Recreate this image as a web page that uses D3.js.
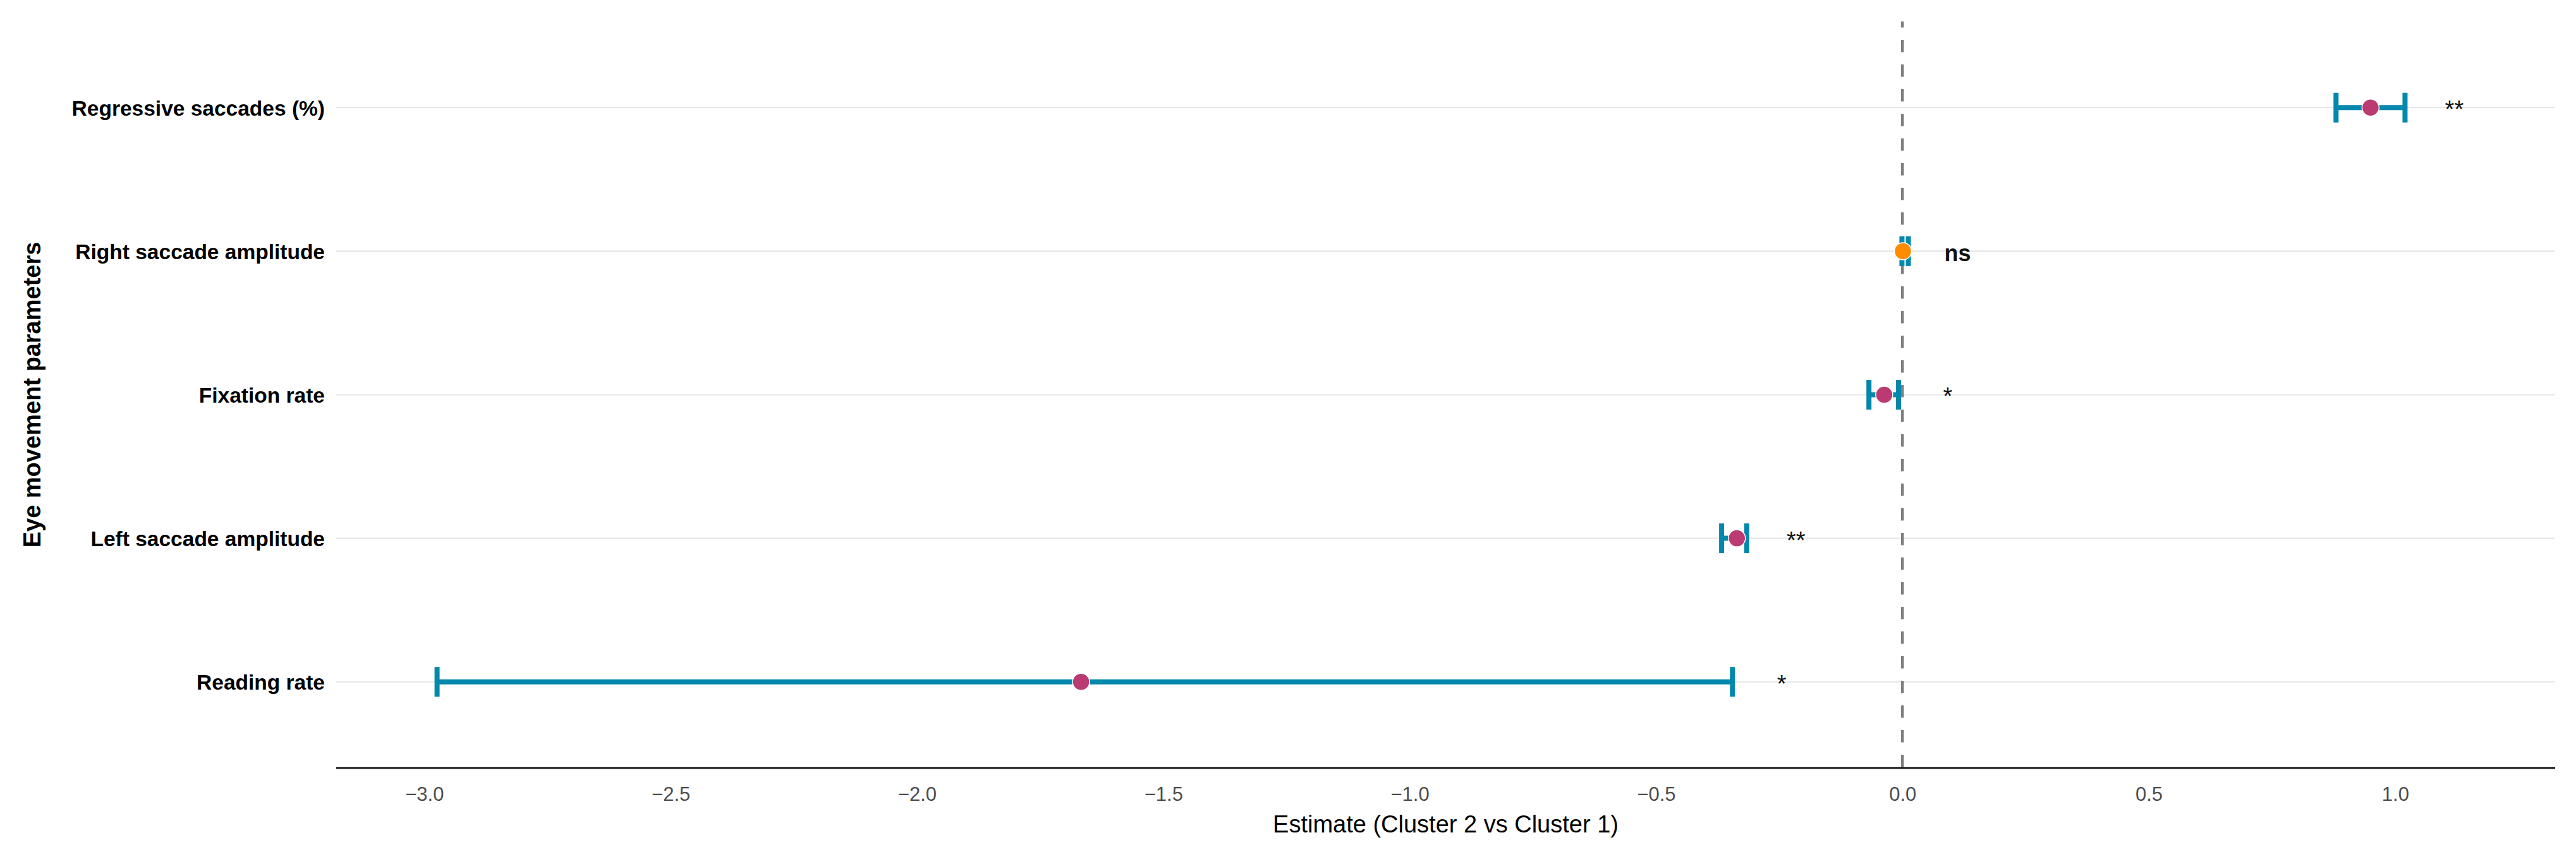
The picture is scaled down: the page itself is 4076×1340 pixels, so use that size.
<!DOCTYPE html>
<html>
<head>
<meta charset="utf-8">
<script src="https://cdn.jsdelivr.net/npm/d3@7"></script>
<style>
  html, body { margin: 0; padding: 0; background: #ffffff; }
  svg { display: block; font-family: "Liberation Sans", Arial, sans-serif; }
</style>
</head>
<body>
<svg id="chart" width="4076" height="1340"></svg>
<script>
// ---- data (top = first) ----
const parameters = ["Regressive saccades (%)", "Right saccade amplitude", "Fixation rate", "Left saccade amplitude", "Reading rate"];
const estimates  = [0.95, 0.001, -0.037, -0.336, -1.667];
const lowerCI    = [0.88, -0.001, -0.068, -0.367, -2.974];
const upperCI    = [1.02, 0.012, -0.008, -0.316, -0.345];
const sigLabels  = ["**", "ns", "*", "**", "*"];
const xTicks     = [-3.0, -2.5, -2.0, -1.5, -1.0, -0.5, 0.0, 0.5, 1.0];
const xTitle = "Estimate (Cluster 2 vs Cluster 1)";
const yTitle = "Eye movement parameters";
const labelOffset = 0.1;

const rows = parameters.map((p, i) => ({
  name: p, est: estimates[i], lo: lowerCI[i], hi: upperCI[i], sig: sigLabels[i]
}));

// ---- layout ----
const W = 4076, H = 1340;
const panel = { left: 532, right: 4043, top: 34, bottom: 1215 };

const svg = d3.select("#chart");

// x domain from data with 5% expansion (labels included)
const dLo = d3.min(rows, d => d.lo);
const dHi = d3.max(rows, d => d.hi + labelOffset);
const pad = (dHi - dLo) * 0.05;
const x = d3.scaleLinear().domain([dLo - pad, dHi + pad]).range([panel.left, panel.right]);

// y band-like point scale with 0.6 expansion
const y = d3.scalePoint().domain(parameters.slice().reverse()).range([panel.bottom, panel.top]).padding(0.6);

const colPink = "#BB3A72", colOrange = "#FF8C00", colTeal = "#0288AD";

// gridlines (horizontal)
svg.append("g").selectAll("line").data(parameters).join("line")
  .attr("x1", panel.left).attr("x2", panel.right)
  .attr("y1", d => y(d)).attr("y2", d => y(d))
  .attr("stroke", "#e6e6e6").attr("stroke-width", 2.2);

// zero reference line
svg.append("line")
  .attr("x1", x(0)).attr("x2", x(0))
  .attr("y1", panel.top).attr("y2", panel.bottom)
  .attr("stroke", "#7f7f7f").attr("stroke-width", 4.5)
  .attr("stroke-dasharray", "19.5,19.5").attr("stroke-dashoffset", 10);

// error bars
const capH = 23.5;
const eb = svg.append("g").attr("stroke", colTeal).attr("stroke-width", 8).attr("fill", "none");
eb.selectAll("line.h").data(rows).join("line").attr("class", "h")
  .attr("x1", d => x(d.lo)).attr("x2", d => x(d.hi))
  .attr("y1", d => y(d.name)).attr("y2", d => y(d.name));
eb.selectAll("line.cl").data(rows).join("line").attr("class", "cl")
  .attr("x1", d => x(d.lo)).attr("x2", d => x(d.lo))
  .attr("y1", d => y(d.name) - capH).attr("y2", d => y(d.name) + capH);
eb.selectAll("line.cr").data(rows).join("line").attr("class", "cr")
  .attr("x1", d => x(d.hi)).attr("x2", d => x(d.hi))
  .attr("y1", d => y(d.name) - capH).attr("y2", d => y(d.name) + capH);

// points
svg.append("g").selectAll("circle").data(rows).join("circle")
  .attr("cx", d => x(d.est)).attr("cy", d => y(d.name)).attr("r", 13.5)
  .attr("fill", d => d.sig === "ns" ? colOrange : colPink)
  .attr("stroke", "#ffffff").attr("stroke-width", 1.5);

// significance labels
svg.append("g").selectAll("text").data(rows).join("text")
  .attr("x", d => x(d.hi + labelOffset)).attr("y", d => y(d.name))
  .attr("dy", "0.42em")
  .attr("text-anchor", "middle")
  .attr("font-size", d => d.sig === "ns" ? 36 : 38)
  .attr("font-weight", d => d.sig === "ns" ? "bold" : "normal")
  .attr("fill", "#111111")
  .text(d => d.sig);

// x axis
const xAxis = d3.axisBottom(x).tickValues(xTicks).tickSize(0).tickPadding(0)
  .tickFormat(d => d3.format(".1f")(d).replace("-", "\u2212"));
const gx = svg.append("g").attr("transform", `translate(0,${panel.bottom})`).call(xAxis);
gx.select(".domain").remove();
gx.selectAll("text").attr("font-size", 31).attr("fill", "#4d4d4d")
  .attr("font-family", "'Liberation Sans', Arial, sans-serif")
  .attr("dy", null).attr("y", 52);
svg.append("line")
  .attr("x1", panel.left).attr("x2", panel.right)
  .attr("y1", panel.bottom).attr("y2", panel.bottom)
  .attr("stroke", "#000000").attr("stroke-width", 2.6);

// y axis labels
const yAxis = d3.axisLeft(y).tickSize(0).tickPadding(18);
const gy = svg.append("g").attr("transform", `translate(${panel.left},0)`).call(yAxis);
gy.select(".domain").remove();
gy.selectAll("text").attr("font-size", 33.5).attr("font-weight", "bold").attr("fill", "#000000")
  .attr("font-family", "'Liberation Sans', Arial, sans-serif")
  .attr("dy", "0.36em");

// axis titles
svg.append("text")
  .attr("x", (panel.left + panel.right) / 2).attr("y", 1317)
  .attr("text-anchor", "middle").attr("font-size", 38).attr("fill", "#000000")
  .text(xTitle);
svg.append("text")
  .attr("transform", `translate(64,${(panel.top + panel.bottom) / 2}) rotate(-90)`)
  .attr("text-anchor", "middle").attr("font-size", 38).attr("font-weight", "bold").attr("fill", "#000000")
  .text(yTitle);
</script>
</body>
</html>
